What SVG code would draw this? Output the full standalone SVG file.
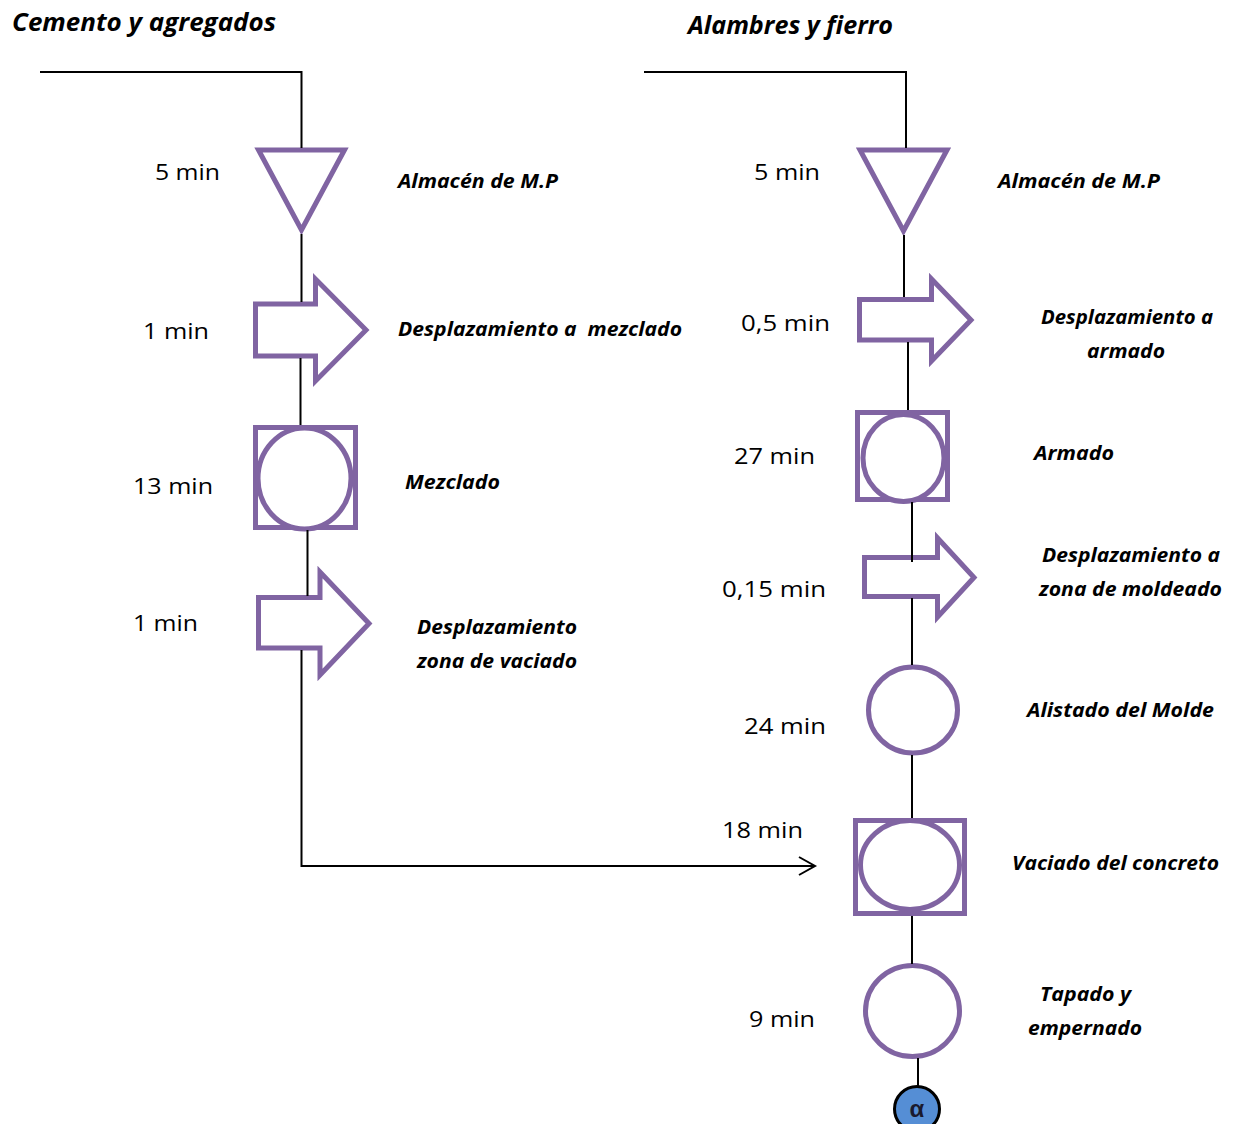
<svg xmlns="http://www.w3.org/2000/svg" width="1237" height="1124" viewBox="0 0 1237 1124">
<style>
.shape{fill:#fff;stroke:#8064a2;stroke-width:5}
.conn{fill:none;stroke:#000;stroke-width:2}
.t{font-family:"Open Sans","Liberation Sans",Arial,sans-serif;font-size:22px;fill:#000}
.lb{font-family:"Open Sans","Liberation Sans",Arial,sans-serif;font-size:19px;font-weight:bold;font-style:italic;fill:#000}
.ti{font-family:"Open Sans","Liberation Sans",Arial,sans-serif;font-size:25px;font-weight:bold;font-style:italic;fill:#000}
</style>
<rect width="1237" height="1124" fill="#fff"/>
<g id="titles">
<text class="ti" x="12" y="31" textLength="264" lengthAdjust="spacingAndGlyphs">Cemento y agregados</text>
<text class="ti" x="688" y="34" textLength="205" lengthAdjust="spacingAndGlyphs">Alambres y fierro</text>
</g>
<g id="L-almacen">
<polygon class="shape" points="258.5,150 344.5,150 301.5,230"/>
<text class="t" x="155" y="180" textLength="65" lengthAdjust="spacingAndGlyphs">5 min</text>
<text class="lb" x="398" y="188" textLength="160" lengthAdjust="spacingAndGlyphs">Almacén de M.P</text>
</g>
<g id="L-desp-mezclado">
<polygon class="shape" points="255.5,304 315.5,304 315.5,279 366,330 315.5,381 315.5,356 255.5,356"/>
<text class="t" x="143" y="339" textLength="66" lengthAdjust="spacingAndGlyphs">1 min</text>
<text class="lb" x="398" y="336" textLength="284" lengthAdjust="spacingAndGlyphs" style="white-space:pre">Desplazamiento a  mezclado</text>
</g>
<g id="L-mezclado">
<rect class="shape" x="255.5" y="427.5" width="100" height="100"/>
<ellipse class="shape" cx="304.5" cy="478.5" rx="46.5" ry="50.5"/>
<text class="t" x="133" y="494" textLength="80" lengthAdjust="spacingAndGlyphs">13 min</text>
<text class="lb" x="405" y="489" textLength="95" lengthAdjust="spacingAndGlyphs">Mezclado</text>
</g>
<g id="L-desp-vaciado">
<polygon class="shape" points="258.5,597.5 320,597.5 320,572 369,623.5 320,675 320,648 258.5,648"/>
<text class="t" x="133" y="631" textLength="65" lengthAdjust="spacingAndGlyphs">1 min</text>
<text class="lb" x="417" y="634" textLength="160" lengthAdjust="spacingAndGlyphs">Desplazamiento</text>
<text class="lb" x="417" y="668" textLength="160" lengthAdjust="spacingAndGlyphs">zona de vaciado</text>
</g>
<g id="R-almacen">
<polygon class="shape" points="860,150 947,150 903.5,231"/>
<text class="t" x="754" y="180" textLength="66" lengthAdjust="spacingAndGlyphs">5 min</text>
<text class="lb" x="998" y="188" textLength="162" lengthAdjust="spacingAndGlyphs">Almacén de M.P</text>
</g>
<g id="R-desp-armado">
<polygon class="shape" points="859.5,299.5 931.5,299.5 931.5,279 971,320 931.5,361 931.5,340 859.5,340"/>
<text class="t" x="741" y="331" textLength="89" lengthAdjust="spacingAndGlyphs">0,5 min</text>
<text class="lb" x="1041" y="324" textLength="172" lengthAdjust="spacingAndGlyphs">Desplazamiento a</text>
<text class="lb" x="1087" y="358" textLength="78" lengthAdjust="spacingAndGlyphs">armado</text>
</g>
<g id="R-armado">
<rect class="shape" x="857.5" y="412.5" width="90" height="87"/>
<ellipse class="shape" cx="903.5" cy="458" rx="40.5" ry="43.5"/>
<text class="t" x="734" y="464" textLength="81" lengthAdjust="spacingAndGlyphs">27 min</text>
<text class="lb" x="1034" y="460" textLength="80" lengthAdjust="spacingAndGlyphs">Armado</text>
</g>
<g id="R-desp-moldeado">
<polygon class="shape" points="864.5,557.5 937.5,557.5 937.5,538 974,577.5 937.5,617 937.5,596.5 864.5,596.5"/>
<text class="t" x="722" y="597" textLength="104" lengthAdjust="spacingAndGlyphs">0,15 min</text>
<text class="lb" x="1042" y="562" textLength="178" lengthAdjust="spacingAndGlyphs">Desplazamiento a</text>
<text class="lb" x="1039" y="596" textLength="183" lengthAdjust="spacingAndGlyphs">zona de moldeado</text>
</g>
<g id="R-alistado">
<ellipse class="shape" cx="913" cy="710" rx="44.5" ry="43"/>
<text class="t" x="744" y="734" textLength="82" lengthAdjust="spacingAndGlyphs">24 min</text>
<text class="lb" x="1027" y="717" textLength="187" lengthAdjust="spacingAndGlyphs">Alistado del Molde</text>
</g>
<g id="R-vaciado">
<rect class="shape" x="855.5" y="820.5" width="109" height="93"/>
<ellipse class="shape" cx="910" cy="865" rx="49.5" ry="44.5"/>
<text class="t" x="722" y="838" textLength="81" lengthAdjust="spacingAndGlyphs">18 min</text>
<text class="lb" x="1012" y="870" textLength="207" lengthAdjust="spacingAndGlyphs">Vaciado del concreto</text>
</g>
<g id="R-tapado">
<ellipse class="shape" cx="912.5" cy="1011" rx="47" ry="45.5"/>
<text class="t" x="749" y="1027" textLength="66" lengthAdjust="spacingAndGlyphs">9 min</text>
<text class="lb" x="1040" y="1001" textLength="91" lengthAdjust="spacingAndGlyphs">Tapado y</text>
<text class="lb" x="1028" y="1035" textLength="114" lengthAdjust="spacingAndGlyphs">empernado</text>
</g>
<g id="alpha">
<circle cx="917" cy="1109" r="22.5" fill="#558ed5" stroke="#000" stroke-width="3"/>
<text x="917" y="1117" text-anchor="middle" font-family="'Liberation Sans',Arial,sans-serif" font-size="24" font-weight="bold" fill="#1a1a2e">α</text>
</g>
<g id="connectors">
<path class="conn" d="M40 72 H301.5 V148"/>
<path class="conn" d="M301.5 234 V302"/>
<path class="conn" d="M300.5 358 V425"/>
<path class="conn" d="M307.5 530 V596"/>
<path class="conn" d="M301.5 650 V866 H815"/>
<path class="conn" d="M799 857 L815 866 L799 875"/>
<path class="conn" d="M644 72 H906 V148"/>
<path class="conn" d="M904 235 V297"/>
<path class="conn" d="M908 342 V410"/>
<path class="conn" d="M912 502 V562"/>
<path class="conn" d="M912 598 V665"/>
<path class="conn" d="M912 755 V818"/>
<path class="conn" d="M912 916 V964"/>
<path class="conn" d="M918 1058 V1086"/>
</g>
</svg>
